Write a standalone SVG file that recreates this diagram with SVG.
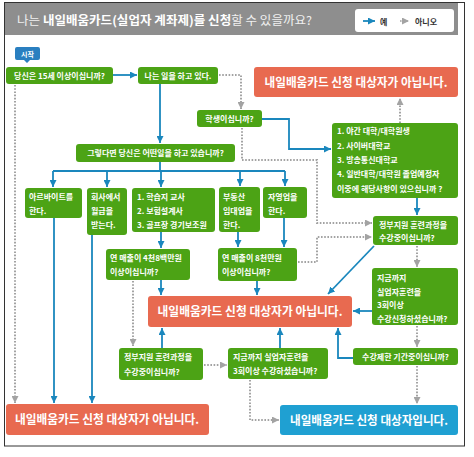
<svg xmlns="http://www.w3.org/2000/svg" width="474" height="457" viewBox="0 0 474 457">
<style>
text{font-family:"Noto Sans CJK KR","Noto Sans",sans-serif;fill:#fff}
.g{fill:#4ca315}
.r{fill:#e86a50}
.b{fill:#1fa0d2}
.t{font-size:8px;font-weight:bold}
.big{font-size:12px;font-weight:bold}
.sol{fill:none;stroke:#1a87bd;stroke-width:1.8}
.dot{fill:none;stroke:#a3a3a3;stroke-width:2;stroke-dasharray:1.6 1.6}
.arb{marker-end:url(#ab)}
.arg{marker-end:url(#ag)}
</style>
<defs>
<marker id="ab" viewBox="0 0 7 7" refX="7" refY="3.5" markerWidth="7" markerHeight="7" markerUnits="userSpaceOnUse" orient="auto"><path d="M0,0L7,3.5L0,7z" fill="#1a87bd"/></marker>
<marker id="ag" viewBox="0 0 7 7" refX="7" refY="3.5" markerWidth="7" markerHeight="7" markerUnits="userSpaceOnUse" orient="auto"><path d="M0,0L7,3.5L0,7z" fill="#a3a3a3"/></marker>
</defs>
<rect x="4.5" y="2.5" width="460" height="443.5" fill="#fff" stroke="#333" stroke-width="1"/>
<g id="header">
<rect x="5" y="3" width="453" height="32" fill="#8e8e8e"/>
<text x="17" y="25" style="font-size:12px;fill:#f0f0f0" textLength="295" lengthAdjust="spacingAndGlyphs">나는 <tspan font-weight="bold" fill="#fff">내일배움카드(실업자 계좌제)를 신청</tspan>할 수 있을까요?</text>
<rect x="355" y="9" width="99" height="23" rx="3" fill="#fff"/>
<path d="M363,21H375" class="sol arb"/>
<text x="380" y="24.5" style="font-size:8px;fill:#333;font-weight:bold">예</text>
<path d="M400,21H409" class="dot arg" style="stroke-width:1.5"/>
<text x="415" y="24.5" style="font-size:8px;fill:#333;font-weight:bold">아니오</text>
</g>
<g id="start">
<path d="M17,47H38a2,2 0 0 1 2,2V58a2,2 0 0 1 -2,2H30L27,63L24,60H17a2,2 0 0 1 -2,-2V49a2,2 0 0 1 2,-2z" fill="#2a7fc0"/>
<text x="27.5" y="56.5" text-anchor="middle" style="font-size:7px;font-weight:bold">시작</text>
</g>
<g id="connectors">
<path class="sol arb" d="M113,75H137"/>
<path class="sol arb" d="M160,84V143"/>
<path class="sol arb" d="M262,119H289V149H331"/>
<path class="sol" d="M160,162V171M53,171H285"/>
<path class="sol arb" d="M53,171V187"/>
<path class="sol arb" d="M107,171V187"/>
<path class="sol arb" d="M161,171V187"/>
<path class="sol arb" d="M240,171V186"/>
<path class="sol arb" d="M285,171V186"/>
<path class="sol arb" d="M54,218V403"/>
<path class="sol arb" d="M92,235V403"/>
<path class="sol arb" d="M161,232V248"/>
<path class="sol arb" d="M238,232V247"/>
<path class="sol arb" d="M284,218V247"/>
<path class="sol arb" d="M161,280V295"/>
<path class="sol arb" d="M257,281V295"/>
<path class="sol arb" d="M417,198V215"/>
<path class="sol arb" d="M374,246L328,294"/>
<path class="sol arb" d="M372,311H353"/>
<path class="sol arb" d="M353,358H338V328"/>
<path class="sol arb" d="M162,348V328"/>
<path class="sol arb" d="M280,348V328"/>
<path class="dot arg" d="M15,85V403"/>
<path class="dot arg" d="M219,75H241V109"/>
<path class="dot arg" d="M242,128V160H317V223H372"/>
<path class="dot arg" d="M298,262H317V237H372"/>
<path class="dot arg" d="M400,123V98"/>
<path class="dot arg" d="M133,281V346"/>
<path class="dot arg" d="M204,365H227"/>
<path class="dot arg" d="M417,246V267"/>
<path class="dot arg" d="M417,326V347"/>
<path class="dot arg" d="M417,366V404"/>
<path class="dot arg" d="M250,380V420H279"/>
</g>
<g id="n-age"><rect class="g" x="6" y="67" width="107" height="17" rx="3"/><text class="t" x="59.5" y="78.5" text-anchor="middle">당신은 15세 이상이십니까?</text></g>
<g id="n-work"><rect class="g" x="138" y="67" width="80" height="17" rx="3"/><text class="t" x="178" y="78.5" text-anchor="middle">나는 일을 하고 있다.</text></g>
<g id="n-student"><rect class="g" x="197" y="110" width="65" height="17" rx="3"/><text class="t" x="229.5" y="121.5" text-anchor="middle">학생이십니까?</text></g>
<g id="n-what"><rect class="g" x="76" y="144" width="159" height="18" rx="3"/><text class="t" x="155.5" y="156" text-anchor="middle">그렇다면 당신은 어떤일을 하고 있습니까?</text></g>
<g id="n-part"><rect class="g" x="25" y="188" width="57" height="30" rx="3"/><text class="t" x="29" y="200">아르바이트를</text><text class="t" x="29" y="214">한다.</text></g>
<g id="n-salary"><rect class="g" x="87" y="188" width="40" height="47" rx="3"/><text class="t" x="91" y="200">회사에서</text><text class="t" x="91" y="214">월급을</text><text class="t" x="91" y="228">받는다.</text></g>
<g id="n-jobs"><rect class="g" x="132" y="188" width="83" height="44" rx="3"/><text class="t" x="137" y="200">1. 학습지 교사</text><text class="t" x="137" y="214">2. 보험설계사</text><text class="t" x="137" y="228">3. 골프장 경기보조원</text></g>
<g id="n-rent"><rect class="g" x="219" y="187" width="41" height="45" rx="3"/><text class="t" x="223" y="200">부동산</text><text class="t" x="223" y="214">임대업을</text><text class="t" x="223" y="228">한다.</text></g>
<g id="n-self"><rect class="g" x="263" y="187" width="44" height="31" rx="3"/><text class="t" x="268" y="200">자영업을</text><text class="t" x="268" y="214">한다.</text></g>
<g id="n-sales48"><rect class="g" x="106" y="249" width="84" height="31" rx="3"/><text class="t" x="110" y="260.5">연 매출이 4천8백만원</text><text class="t" x="110" y="275">이상이십니까?</text></g>
<g id="n-sales80"><rect class="g" x="218" y="248" width="79" height="33" rx="3"/><text class="t" x="222" y="260.5">연 매출이 8천만원</text><text class="t" x="222" y="275">이상이십니까?</text></g>
<g id="n-list"><rect class="g" x="332" y="123" width="126" height="75" rx="3"/><text class="t" x="337" y="134">1. 야간 대학/대학원생</text><text class="t" x="337" y="149">2. 사이버대학교</text><text class="t" x="337" y="162.5">3. 방송통신대학교</text><text class="t" x="337" y="177">4. 일반대학/대학원 졸업예정자</text><text class="t" x="337" y="192">이중에 해당사항이 있으십니까 ?</text></g>
<g id="n-gov-r"><rect class="g" x="373" y="216" width="85" height="29" rx="3"/><text class="t" x="379" y="227.5">정부지원 훈련과정을</text><text class="t" x="379" y="241">수강중이십니까?</text></g>
<g id="n-thrice-r"><rect class="g" x="372" y="268" width="86" height="57" rx="3"/><text class="t" x="377" y="280.5">지금까지</text><text class="t" x="377" y="294.5">실업자훈련을</text><text class="t" x="377" y="308">3회이상</text><text class="t" x="377" y="321.5">수강신청하셨습니까?</text></g>
<g id="n-limit"><rect class="g" x="353" y="348" width="105" height="17" rx="3"/><text class="t" x="405.5" y="359.5" text-anchor="middle">수강제한 기간중이십니까?</text></g>
<g id="n-gov-b"><rect class="g" x="119" y="348" width="84" height="32" rx="3"/><text class="t" x="124" y="360">정부지원 훈련과정을</text><text class="t" x="124" y="374.5">수강중이십니까?</text></g>
<g id="n-thrice-b"><rect class="g" x="228" y="348" width="100" height="31" rx="3"/><text class="t" x="233" y="359.5">지금까지 실업자훈련을</text><text class="t" x="233" y="374">3회이상 수강하셨습니까?</text></g>
<g id="r-top"><rect class="r" x="254" y="67" width="204" height="30" rx="3"/><text class="big" x="356" y="86.5" text-anchor="middle" textLength="183" lengthAdjust="spacingAndGlyphs">내일배움카드 신청 대상자가 아닙니다.</text></g>
<g id="r-mid"><rect class="r" x="148" y="296" width="204" height="31" rx="3"/><text class="big" x="250" y="316" text-anchor="middle" textLength="185" lengthAdjust="spacingAndGlyphs">내일배움카드 신청 대상자가 아닙니다.</text></g>
<g id="r-bottom"><rect class="r" x="6" y="404" width="203" height="31" rx="3"/><text class="big" x="107" y="424" text-anchor="middle" textLength="184" lengthAdjust="spacingAndGlyphs">내일배움카드 신청 대상자가 아닙니다.</text></g>
<g id="yes"><rect class="b" x="280" y="405" width="178" height="30" rx="3"/><text class="big" x="369" y="424.5" text-anchor="middle" textLength="158" lengthAdjust="spacingAndGlyphs">내일배움카드 신청 대상자입니다.</text></g>
</svg>
